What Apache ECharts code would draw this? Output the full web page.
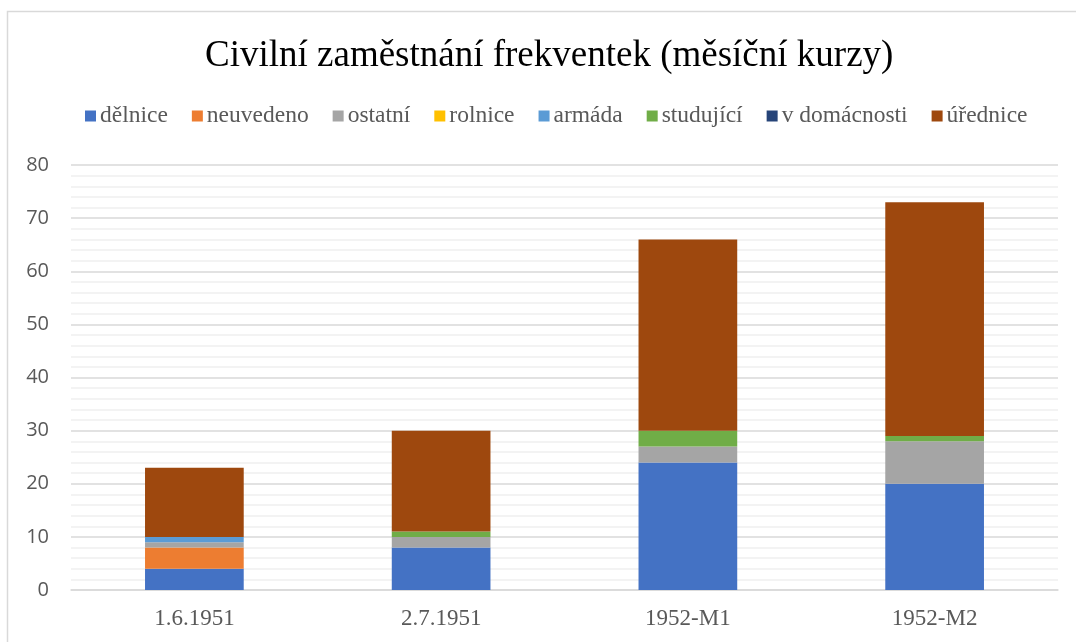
<!DOCTYPE html>
<html>
<head>
<meta charset="UTF-8">
<title>Civilní zaměstnání frekventek</title>
<script src="https://cdn.jsdelivr.net/npm/echarts@6/dist/echarts.min.js"></script>
<style>
html, body { margin: 0; padding: 0; background: #fff; }
</style>
</head>
<body>
	<div id="container" style="width:1076px;height:642px;"></div>
	<script type="text/javascript">

	var categories = ['1.6.1951', '2.7.1951', '1952-M1', '1952-M2'];
	var delnice     = [4, 8, 24, 20];
	var neuvedeno   = [4, 0, 0, 0];
	var ostatni     = [1, 2, 3, 8];
	var rolnice     = [0, 0, 0, 0];
	var armada      = [1, 0, 0, 0];
	var studujici   = [0, 1, 3, 1];
	var vDomacnosti = [0, 0, 0, 0];
	var urednice    = [13, 19, 36, 44];

	var names  = ['dělnice', 'neuvedeno', 'ostatní', 'rolnice', 'armáda', 'studující', 'v domácnosti', 'úřednice'];
	var values = [delnice, neuvedeno, ostatni, rolnice, armada, studujici, vDomacnosti, urednice];
	var colors = ['#4472C4', '#ED7D31', '#A5A5A5', '#FFC000', '#5B9BD5', '#70AD47', '#264478', '#9E480E'];

	var series = [];
	for (var i = 0; i < names.length; i++) {
		series.push({
			name: names[i],
			type: 'bar',
			stack: 'total',
			barWidth: '40%',
			itemStyle: { color: colors[i] },
			data: values[i]
		});
	}

	var dom = document.getElementById("container");
	var myChart = echarts.init(dom);
	var option = {
		color: colors,
		animation: false,
		title: {
			text: 'Civilní zaměstnání frekventek (měsíční kurzy)',
			left: 200,
			top: 33,
			textStyle: {
				fontFamily: 'Liberation Serif',
				fontWeight: 'normal',
				fontSize: 37,
				color: '#000'
			}
		},
		legend: {
			top: 99,
			left: 80,
			itemWidth: 11,
			itemHeight: 11,
			itemGap: 24,
			icon: 'rect',
			textStyle: {
				fontFamily: 'Liberation Serif',
				fontSize: 23.5,
				color: '#595959',
				padding: [0, 0, 0, -1]
			},
			data: names
		},
		graphic: [{
			type: 'rect',
			shape: { x: 7.5, y: 11.5, width: 1200, height: 800 },
			style: { fill: 'none', stroke: '#d9d9d9', lineWidth: 1.5 },
			silent: true
		}],
		grid: {
			left: 71,
			right: 18,
			top: 165,
			bottom: 52,
			containLabel: false
		},
		xAxis: {
			type: 'category',
			data: categories,
			axisTick: { show: false },
			axisLine: { lineStyle: { color: '#d9d9d9', width: 1.5 } },
			axisLabel: {
				margin: 17,
				fontFamily: 'Liberation Serif',
				fontSize: 23,
				color: '#595959'
			}
		},
		yAxis: {
			type: 'value',
			min: 0,
			max: 80,
			interval: 10,
			axisLine: { show: false },
			axisTick: { show: false },
			axisLabel: {
				margin: 22,
				fontFamily: 'Open Sans',
				fontSize: 20,
				color: '#595959'
			},
			splitLine: { lineStyle: { color: '#d9d9d9', width: 1.5 } },
			minorTick: { show: false, splitNumber: 5 },
			minorSplitLine: { show: true, lineStyle: { color: '#efefef', width: 1.5 } }
		},
		series: series
	};

	if (option && typeof option === "object") {
		myChart.setOption(option, true);
	}
    </script>
</body>
</html>
